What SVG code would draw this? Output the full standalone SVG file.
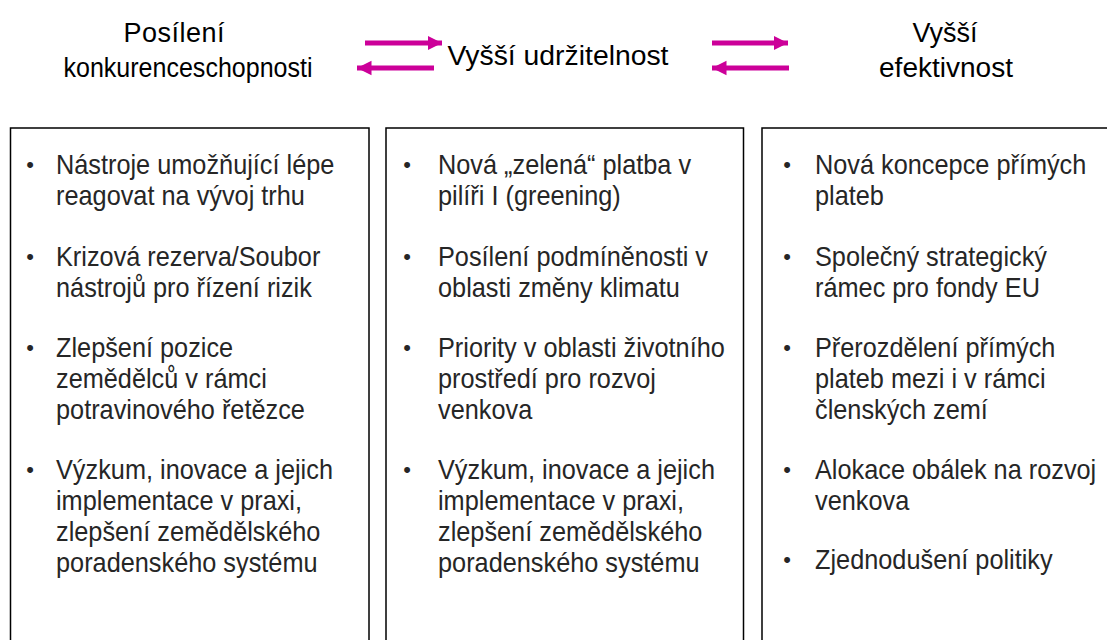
<svg xmlns="http://www.w3.org/2000/svg" width="1107" height="640" viewBox="0 0 1107 640">
<defs>
<style>
.hdr{font-family:"Liberation Sans",Arial,sans-serif;font-size:27px;fill:#000;text-anchor:middle}
.t{font-family:"Liberation Sans",Arial,sans-serif;font-size:28px;fill:#262626}
.b{font-family:"Liberation Sans",Arial,sans-serif;font-size:22px;fill:#262626;text-anchor:middle}
.box{fill:#fff;stroke:#000;stroke-width:1.5}
.arr{stroke:#CC0099;stroke-width:5;fill:none}
</style>
<marker id="ah" viewBox="0 0 10 10" refX="10" refY="5" markerWidth="2.9" markerHeight="3.3" orient="auto" markerUnits="strokeWidth">
<path d="M0,0 L10,5 L0,10 Z" fill="#CC0099"/>
</marker>
</defs>
<rect width="1107" height="640" fill="#fff"/>
<g id="header-konkurence">
<text class="hdr" x="174" y="42" textLength="101" lengthAdjust="spacing">Posílení</text>
<text class="hdr" x="188" y="77" textLength="249" lengthAdjust="spacingAndGlyphs">konkurenceschopnosti</text>
</g>
<g id="header-udrzitelnost">
<text class="hdr" x="558" y="65" textLength="221" lengthAdjust="spacingAndGlyphs">Vyšší udržitelnost</text>
</g>
<g id="header-efektivnost">
<text class="hdr" x="945" y="42">Vyšší</text>
<text class="hdr" x="946" y="77" textLength="134" lengthAdjust="spacingAndGlyphs">efektivnost</text>
</g>
<g id="connectors">
<line class="arr" x1="365" y1="43" x2="442" y2="43" marker-end="url(#ah)"/>
<line class="arr" x1="434" y1="68" x2="357" y2="68" marker-end="url(#ah)"/>
<line class="arr" x1="712" y1="43" x2="788" y2="43" marker-end="url(#ah)"/>
<line class="arr" x1="789" y1="68" x2="712" y2="68" marker-end="url(#ah)"/>
</g>
<g id="box-konkurence">
<rect class="box" x="10.5" y="128" width="358.5" height="530"/>
<text class="b"><tspan x="30" y="172">•</tspan><tspan x="30" y="264">•</tspan><tspan x="30" y="355">•</tspan><tspan x="30" y="477">•</tspan></text>
<g transform="translate(56,0) scale(0.904,1)">
<text class="t"><tspan x="0" y="174">Nástroje umožňující lépe</tspan><tspan x="0" y="205">reagovat na vývoj trhu</tspan></text>
<text class="t"><tspan x="0" y="266">Krizová rezerva/Soubor</tspan><tspan x="0" y="297">nástrojů pro řízení  rizik</tspan></text>
<text class="t"><tspan x="0" y="357">Zlepšení pozice</tspan><tspan x="0" y="388">zemědělců v rámci</tspan><tspan x="0" y="419">potravinového řetězce</tspan></text>
<text class="t"><tspan x="0" y="479">Výzkum, inovace a jejich</tspan><tspan x="0" y="510">implementace v praxi,</tspan><tspan x="0" y="541">zlepšení zemědělského</tspan><tspan x="0" y="572">poradenského systému</tspan></text>
</g>
</g>
<g id="box-udrzitelnost">
<rect class="box" x="386" y="128" width="357.5" height="530"/>
<text class="b"><tspan x="407" y="172">•</tspan><tspan x="407" y="264">•</tspan><tspan x="407" y="355">•</tspan><tspan x="407" y="477">•</tspan></text>
<g transform="translate(438,0) scale(0.904,1)">
<text class="t"><tspan x="0" y="174">Nová „zelená“ platba v</tspan><tspan x="0" y="205">pilíři I (greening)</tspan></text>
<text class="t"><tspan x="0" y="266">Posílení podmíněnosti v</tspan><tspan x="0" y="297">oblasti změny klimatu</tspan></text>
<text class="t"><tspan x="0" y="357">Priority v oblasti životního</tspan><tspan x="0" y="388">prostředí pro rozvoj</tspan><tspan x="0" y="419">venkova</tspan></text>
<text class="t"><tspan x="0" y="479">Výzkum, inovace a jejich</tspan><tspan x="0" y="510">implementace v praxi,</tspan><tspan x="0" y="541">zlepšení zemědělského</tspan><tspan x="0" y="572">poradenského systému</tspan></text>
</g>
</g>
<g id="box-efektivnost">
<rect class="box" x="762" y="128" width="400" height="530"/>
<text class="b"><tspan x="787" y="172">•</tspan><tspan x="787" y="264">•</tspan><tspan x="787" y="355">•</tspan><tspan x="787" y="477">•</tspan><tspan x="787" y="567">•</tspan></text>
<g transform="translate(815,0) scale(0.904,1)">
<text class="t"><tspan x="0" y="174">Nová koncepce přímých</tspan><tspan x="0" y="205">plateb</tspan></text>
<text class="t"><tspan x="0" y="266">Společný strategický</tspan><tspan x="0" y="297">rámec pro fondy EU</tspan></text>
<text class="t"><tspan x="0" y="357">Přerozdělení přímých</tspan><tspan x="0" y="388">plateb mezi i v rámci</tspan><tspan x="0" y="419">členských zemí</tspan></text>
<text class="t"><tspan x="0" y="479">Alokace obálek na  rozvoj</tspan><tspan x="0" y="510">venkova</tspan></text>
<text class="t"><tspan x="0" y="569">Zjednodušení politiky</tspan></text>
</g>
</g>
</svg>
